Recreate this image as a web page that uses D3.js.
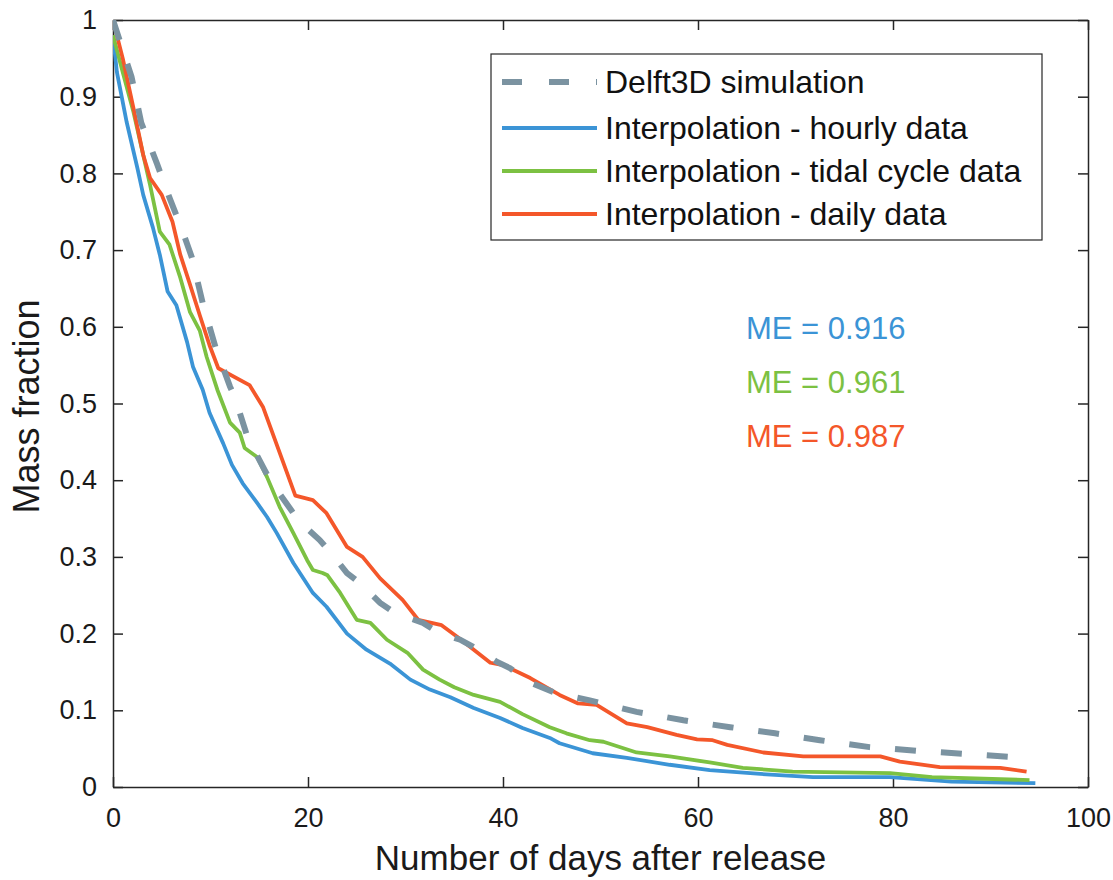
<!DOCTYPE html>
<html>
<head>
<meta charset="utf-8">
<script src="https://cdn.jsdelivr.net/npm/d3@7"></script>
<style>
  html, body { margin: 0; padding: 0; background: #fff; }
  svg { display: block; font-family: "Liberation Sans", Arial, Helvetica, sans-serif; }
</style>
</head>
<body>
<svg id="chart" width="1113" height="880"></svg>
<script>
// ---- Data ----
const xTicks = [0, 20, 40, 60, 80, 100];
const yTicks = [0, 0.1, 0.2, 0.3, 0.4, 0.5, 0.6, 0.7, 0.8, 0.9, 1];

const seriesNames = ["Delft3D simulation", "Interpolation - hourly data", "Interpolation - tidal cycle data", "Interpolation - daily data"];
const seriesColors = ["#7b93a1", "#3b94d6", "#7cc142", "#f4572a"];

const delftDays = [0, 1.9, 2.9, 4.5, 5.8, 7.1, 8.1, 9.2, 10.5, 12, 12.5, 13.8, 16.1, 18.5, 19.2, 21.2, 22.3, 24, 25.3, 27.4, 28.9, 31.8, 33.3, 35.6, 36.9, 39.4, 40.7, 43, 45.5, 48.9, 53.7, 58.5, 63.3, 67.9, 72.5, 77.6, 82.6, 87.6, 93.5];
const delftVals = [1, 0.926, 0.866, 0.813, 0.768, 0.726, 0.69, 0.631, 0.574, 0.522, 0.508, 0.456, 0.40, 0.357, 0.345, 0.322, 0.306, 0.279, 0.266, 0.24, 0.227, 0.214, 0.202, 0.192, 0.183, 0.163, 0.155, 0.135, 0.122, 0.113, 0.098, 0.087, 0.078, 0.07, 0.061, 0.052, 0.047, 0.043, 0.038];

const hourlyDays = [0, 0.4, 1.4, 2.5, 3.1, 4.1, 4.8, 5.6, 6.5, 7.6, 8.2, 9.2, 9.9, 11.3, 12.2, 13.3, 14.8, 15.8, 16.8, 18.5, 20.5, 21.9, 24, 26, 28.4, 30.5, 32.5, 34.6, 37, 39.7, 42, 44.8, 45.8, 49.2, 52.7, 57.1, 61.2, 66.4, 71.8, 79.7, 86, 94.6];
const hourlyVals = [0.98, 0.932, 0.867, 0.807, 0.772, 0.729, 0.694, 0.646, 0.628, 0.58, 0.548, 0.518, 0.488, 0.448, 0.42, 0.396, 0.37, 0.352, 0.331, 0.292, 0.253, 0.235, 0.20, 0.179, 0.161, 0.14, 0.127, 0.117, 0.103, 0.09, 0.077, 0.064, 0.057, 0.044, 0.038, 0.029, 0.022, 0.017, 0.013, 0.013, 0.007, 0.005];

const tidalDays = [0, 1, 2.1, 3.1, 3.8, 4.8, 5.8, 6.9, 7.9, 8.9, 9.6, 10.7, 12, 13, 13.5, 14.8, 15.8, 17.1, 18.5, 19.9, 20.5, 21.5, 22, 23.3, 25, 26.4, 28.1, 30.2, 31.8, 33.5, 35, 37, 39.7, 42, 44.8, 46.5, 48.9, 50.3, 53.7, 57.1, 61.2, 64.6, 69.7, 79.7, 84, 94];
const tidalVals = [0.98, 0.932, 0.88, 0.824, 0.785, 0.724, 0.707, 0.664, 0.619, 0.595, 0.561, 0.518, 0.475, 0.462, 0.442, 0.43, 0.404, 0.365, 0.331, 0.296, 0.283, 0.279, 0.276, 0.253, 0.218, 0.214, 0.192, 0.175, 0.153, 0.14, 0.13, 0.12, 0.111, 0.095, 0.078, 0.07, 0.061, 0.059, 0.045, 0.04, 0.032, 0.025, 0.02, 0.018, 0.013, 0.009];

const dailyDays = [0, 1, 2.1, 3.1, 3.8, 5, 6.1, 6.9, 7.9, 8.9, 9.9, 10.8, 14, 15.4, 18.7, 20.5, 21.9, 24, 25.6, 27.4, 29.7, 31.3, 33.7, 35.3, 38.7, 40, 42.8, 45.8, 47.7, 49.6, 52.7, 54.8, 57.8, 59.9, 61.5, 63, 66.7, 70.8, 78.7, 80.7, 84.8, 91, 93.7];
const dailyVals = [1, 0.95, 0.885, 0.824, 0.794, 0.772, 0.737, 0.694, 0.655, 0.615, 0.576, 0.546, 0.524, 0.495, 0.38, 0.374, 0.357, 0.313, 0.30, 0.272, 0.244, 0.218, 0.211, 0.196, 0.162, 0.159, 0.142, 0.12, 0.109, 0.107, 0.083, 0.078, 0.068, 0.062, 0.061, 0.055, 0.045, 0.04, 0.04, 0.033, 0.026, 0.025, 0.02];

const meLabels = ["ME = 0.916", "ME = 0.961", "ME = 0.987"];

// ---- Layout ----
const svg = d3.select("#chart");
const margin = { left: 113, top: 20, right: 25, bottom: 93 };
const W = 1113 - margin.left - margin.right;
const H = 880 - margin.top - margin.bottom;
const g = svg.append("g").attr("transform", `translate(${margin.left},${margin.top})`);

const x = d3.scaleLinear().domain([0, 100]).range([0, W]);
const y = d3.scaleLinear().domain([0, 1]).range([H, 0]);

const axisColor = "#262626";
const tickFont = 27;

// axes
const fmt = d3.format("~g");
const xAxis = g.append("g").attr("transform", `translate(0,${H})`)
  .call(d3.axisBottom(x).tickValues(xTicks).tickSizeInner(-10).tickSizeOuter(0).tickPadding(21).tickFormat(fmt));
const yAxis = g.append("g")
  .call(d3.axisLeft(y).tickValues(yTicks).tickSizeInner(-10).tickSizeOuter(0).tickPadding(16).tickFormat(fmt));
const xTop = g.append("g")
  .call(d3.axisTop(x).tickValues(xTicks).tickSizeInner(-10).tickSizeOuter(0).tickFormat(""));
const yRight = g.append("g").attr("transform", `translate(${W},0)`)
  .call(d3.axisRight(y).tickValues(yTicks).tickSizeInner(-10).tickSizeOuter(0).tickFormat(""));

[xAxis, yAxis, xTop, yRight].forEach(a => {
  a.select(".domain").attr("stroke", axisColor).attr("stroke-width", 1.5);
  a.selectAll(".tick line").attr("stroke", axisColor).attr("stroke-width", 1.5);
  a.selectAll(".tick text").attr("fill", "#1a1a1a").style("font-size", tickFont + "px")
    .style("font-family", '"Liberation Sans", Arial, sans-serif');
});

// clip
svg.append("defs").append("clipPath").attr("id", "clip")
  .append("rect").attr("x", 0).attr("y", 0).attr("width", W).attr("height", H);

const line = d3.line().x(d => x(d[0])).y(d => y(d[1]));
const zip = (a, b) => a.map((d, i) => [d, b[i]]);

const plot = g.append("g").attr("clip-path", "url(#clip)");
plot.append("path").datum(zip(hourlyDays, hourlyVals)).attr("d", line)
  .attr("fill", "none").attr("stroke", seriesColors[1]).attr("stroke-width", 3.8).attr("stroke-linejoin", "round");
plot.append("path").datum(zip(tidalDays, tidalVals)).attr("d", line)
  .attr("fill", "none").attr("stroke", seriesColors[2]).attr("stroke-width", 3.8).attr("stroke-linejoin", "round");
plot.append("path").datum(zip(dailyDays, dailyVals)).attr("d", line)
  .attr("fill", "none").attr("stroke", seriesColors[3]).attr("stroke-width", 3.8).attr("stroke-linejoin", "round");
plot.append("path").datum(zip(delftDays, delftVals)).attr("d", line)
  .attr("fill", "none").attr("stroke", seriesColors[0]).attr("stroke-width", 6)
  .attr("stroke-dasharray", "21,25");

// ME labels
const meColors = [seriesColors[1], seriesColors[2], seriesColors[3]];
meLabels.forEach((t, i) => {
  g.append("text").attr("x", 746 - margin.left).attr("y", 339 - margin.top + i * 54)
    .attr("fill", meColors[i]).style("font-size", "31px").text(t);
});

// legend
const lg = svg.append("g");
lg.append("rect").attr("x", 491).attr("y", 54).attr("width", 551).attr("height", 186)
  .attr("fill", "#fff").attr("stroke", axisColor).attr("stroke-width", 1.2);
const rowsY = [82, 128, 171, 214];
seriesNames.forEach((name, i) => {
  const ly = rowsY[i];
  const l = lg.append("line").attr("x1", 502).attr("x2", 597).attr("y1", ly).attr("y2", ly)
    .attr("stroke", seriesColors[i]);
  if (i === 0) l.attr("stroke-width", 6).attr("stroke-dasharray", "20,27");
  else l.attr("stroke-width", 3.8);
  lg.append("text").attr("x", 605).attr("y", ly + 11).attr("fill", "#111")
    .style("font-size", "32px").text(name);
});

// axis labels
svg.append("text").attr("x", margin.left + W / 2).attr("y", 870).attr("text-anchor", "middle")
  .attr("fill", "#1a1a1a").style("font-size", "35px").text("Number of days after release");
svg.append("text").attr("transform", `translate(39,${margin.top + H / 2 + 3}) rotate(-90)`)
  .attr("text-anchor", "middle").attr("fill", "#1a1a1a").style("font-size", "36px").text("Mass fraction");
</script>
</body>
</html>
